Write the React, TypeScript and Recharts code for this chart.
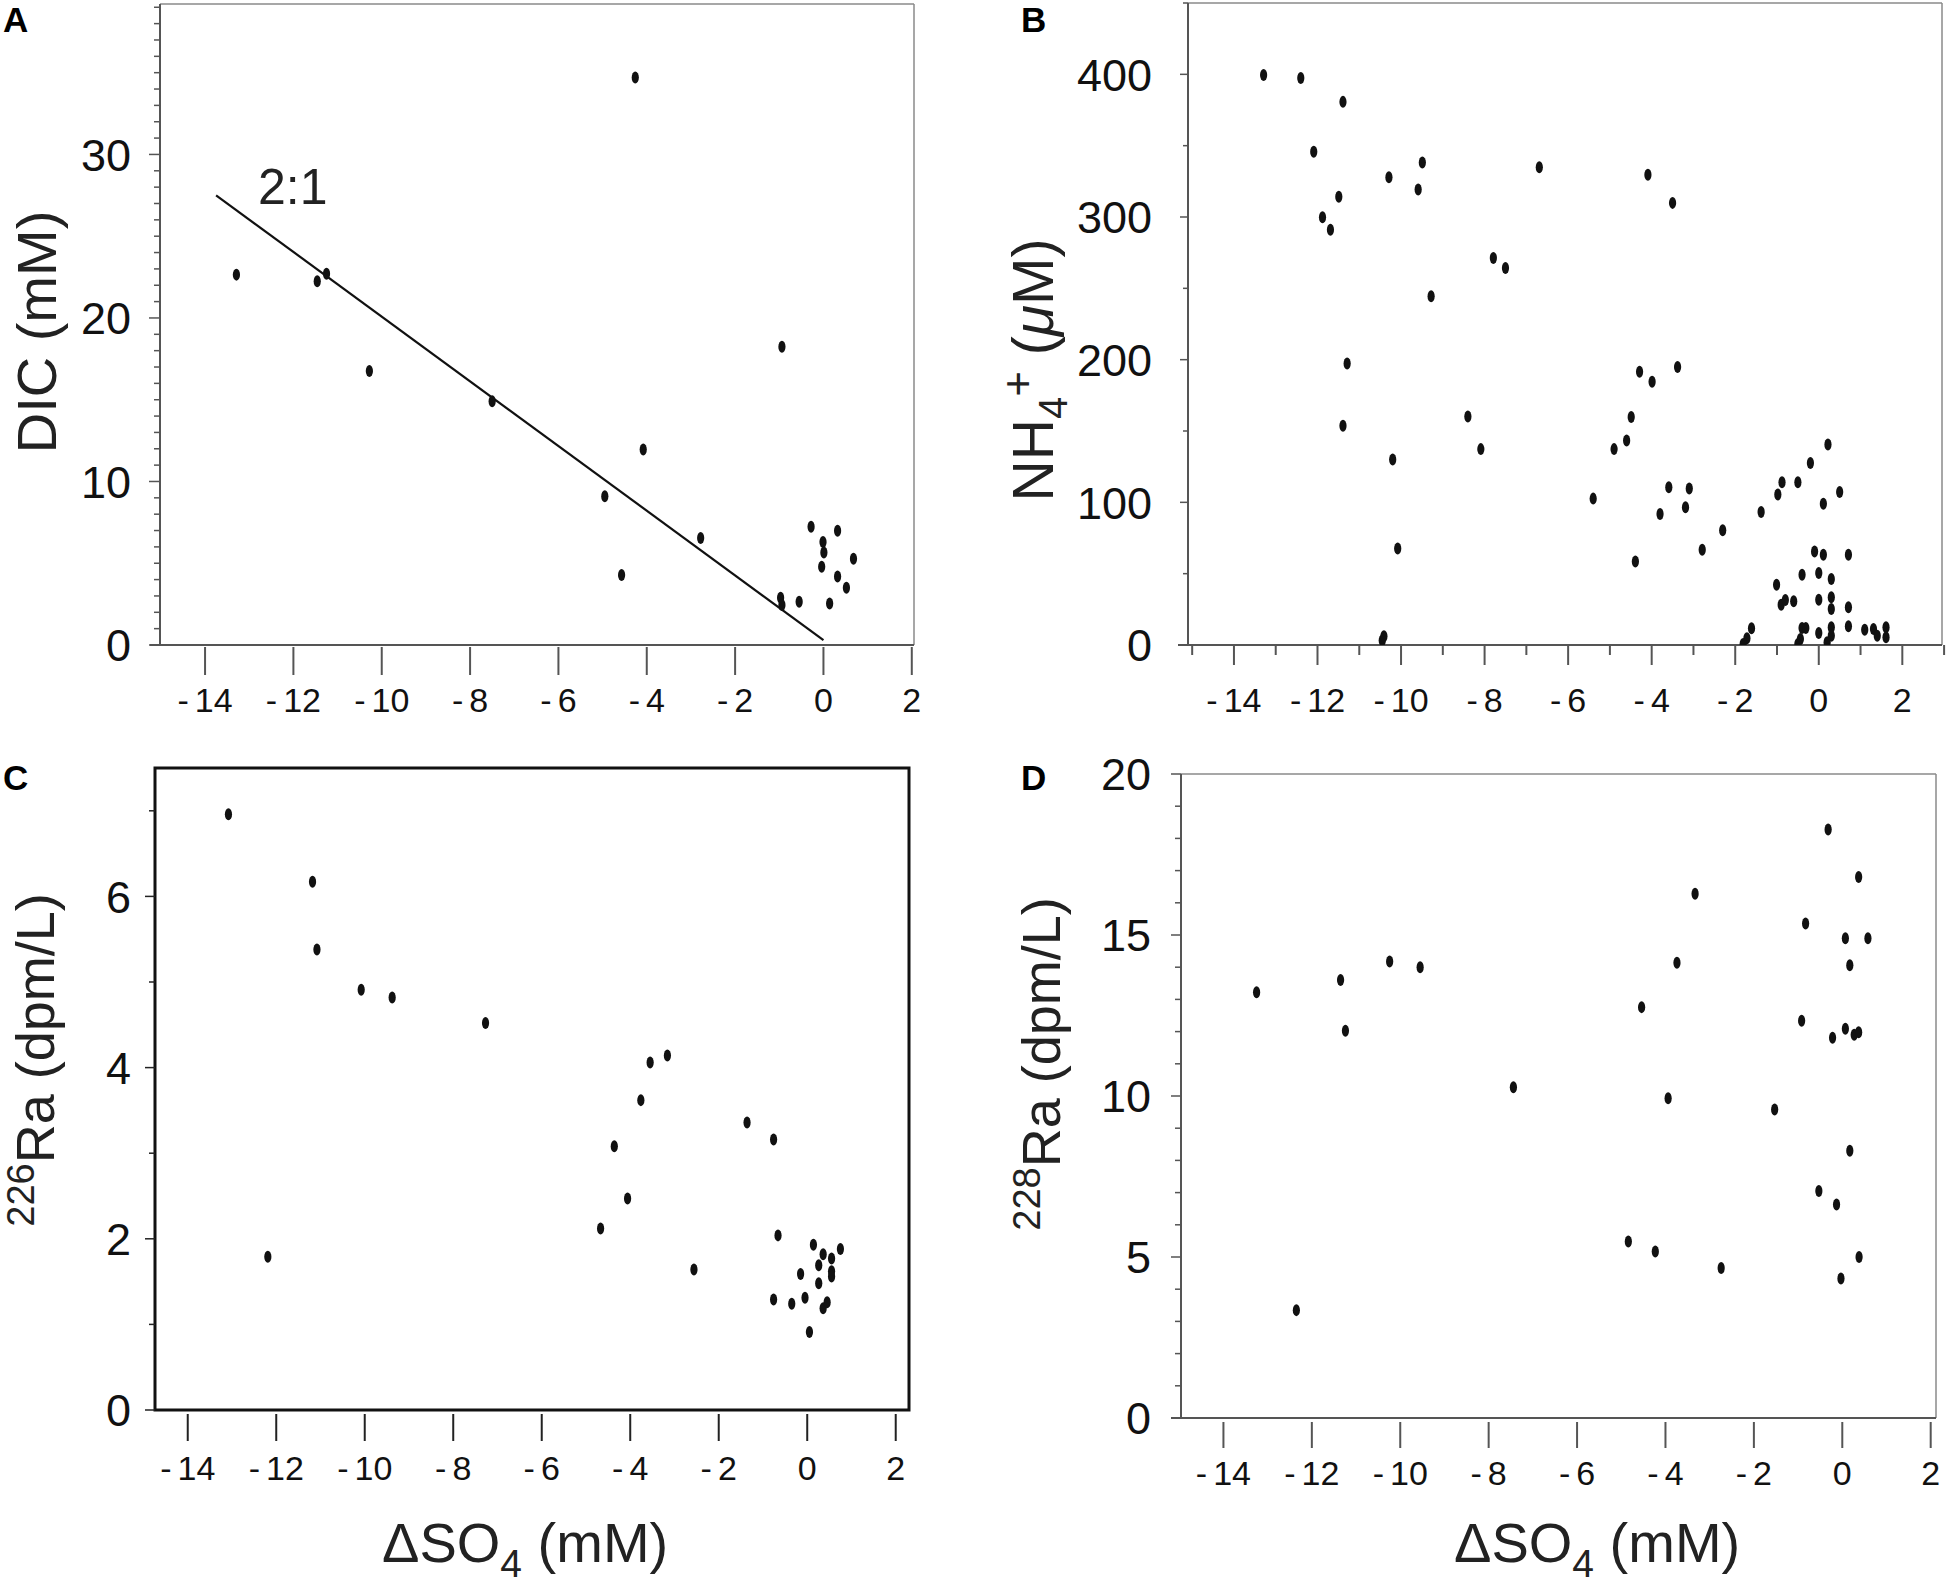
import React from "react";
import { Label, ReferenceArea, ReferenceLine, Scatter, ScatterChart, XAxis, YAxis } from "recharts";

const FONT = "'Liberation Sans', Arial, Helvetica, sans-serif";

// panel A: DIC vs dSO4
const aX = [-13.29, -11.46, -11.25, -10.28, -7.5, -4.26, -4.95, -4.57, -4.08, -2.78, -0.94, -0.97, -0.94, -0.55, -0.28, -0.01, 0.01, -0.04, 0.32, 0.32, 0.14, 0.52, 0.68];
const aY = [22.65, 22.25, 22.7, 16.75, 14.9, 34.7, 9.1, 4.28, 11.95, 6.55, 18.24, 2.89, 2.45, 2.64, 7.23, 6.3, 5.65, 4.78, 6.98, 4.19, 2.54, 3.5, 5.27];
const fitX = [-13.75, 0];
const fitY = [27.5, 0.3];

// panel B: NH4+ vs dSO4
const bX = [
  -13.29, -12.4, -11.39, -12.09, -11.49, -11.88, -11.69, -11.29, -11.39, -10.29, -10.2, -10.08, -10.45, -10.41,
  -9.49, -9.59, -9.28, -8.4, -8.09, -7.79, -7.5, -6.69, -5.4, -4.9, -4.6, -4.49, -4.29, -4.39, -4.09, -3.99,
  -3.8, -3.59, -3.5, -3.38, -3.19, -3.1, -2.79, -2.3, -1.38, -0.98, -0.88, -0.5, -0.2, 0.11, 0.22, 0.5,
  -0.1, 0.11, 0.71, -0.4, 0, 0.3, -1.01, -0.9, -0.8, -0.6, 0, 0.3, 0.3, 0.71, -1.61, -1.72, -1.81, -0.4,
  -0.31, -0.44, -0.5, 0, 0.3, 0.3, 0.2, 0.71, 1.1, 1.31, 1.4, 1.61, 1.61,
];
const bY = [
  399.6, 397.5, 380.7, 345.7, 314.2, 299.9, 291, 197.3, 153.7, 327.8, 130.1, 67.6, 3.2, 6.1,
  338.2, 319.2, 244.5, 160.1, 137.3, 271.3, 264.2, 334.9, 102.6, 137.3, 143.3, 159.8, 191.6, 58.6, 329.6, 184.5,
  91.9, 110.5, 309.9, 194.8, 96.5, 109.7, 66.8, 80.4, 93.3, 105.5, 114, 114, 127.6, 99, 140.5, 107.2,
  65.6, 63.3, 63.3, 49.3, 50.5, 46.2, 42.3, 28.2, 31.5, 30.6, 31.7, 33.4, 25.2, 26.4, 11.7, 4.7, 0.7, 11.9,
  11.9, 4.2, 0.7, 8.4, 12.4, 6.5, 1.9, 13.1, 10.7, 11.2, 6.5, 12.4, 5.4,
];

// panel C: 226Ra vs dSO4
const cX = [-13.08, -11.18, -11.08, -12.19, -10.08, -9.38, -7.27, -4.67, -4.36, -4.06, -3.76, -3.55, -3.16, -2.56, -1.36, -0.76, -0.66, -0.76, -0.35, -0.15, -0.05, 0.05, 0.14, 0.26, 0.26, 0.36, 0.36, 0.45, 0.55, 0.55, 0.55, 0.75];
const cY = [6.96, 6.17, 5.38, 1.79, 4.91, 4.82, 4.52, 2.12, 3.08, 2.47, 3.62, 4.06, 4.14, 1.64, 3.36, 3.16, 2.04, 1.29, 1.24, 1.59, 1.31, 0.91, 1.93, 1.69, 1.48, 1.82, 1.19, 1.26, 1.77, 1.62, 1.56, 1.88];

// panel D: 228Ra vs dSO4
const dX = [-13.25, -12.35, -11.35, -11.24, -10.24, -9.55, -7.44, -4.84, -4.54, -4.23, -3.94, -3.74, -3.33, -2.74, -1.53, -0.92, -0.83, -0.53, -0.32, -0.22, -0.13, -0.03, 0.07, 0.07, 0.17, 0.17, 0.27, 0.37, 0.37, 0.38, 0.58];
const dY = [13.22, 3.35, 13.6, 12.03, 14.18, 14.0, 10.27, 5.48, 12.76, 5.17, 9.93, 14.14, 16.28, 4.66, 9.58, 12.34, 15.36, 7.05, 18.28, 11.81, 6.63, 4.33, 14.9, 12.09, 8.3, 14.06, 11.9, 11.98, 16.8, 5.0, 14.9];

// tick labels
const xLabelsEven = [-14, -12, -10, -8, -6, -4, -2, 0, 2];
const xTicksB = Array.from({ length: 19 }, (_, i) => i - 15);
const aYLabels = [0, 10, 20, 30];
const aYTicks = Array.from({ length: 40 }, (_, i) => i);
const bYLabels = [0, 100, 200, 300, 400];
const bYTicks = [0, 50, 100, 150, 200, 250, 300, 350, 400, 450];
const cYLabels = [0, 2, 4, 6];
const cYTicks = [0, 1, 2, 3, 4, 5, 6, 7];
const dYLabels = [0, 5, 10, 15, 20];
const dYTicks = Array.from({ length: 21 }, (_, i) => i);

const pts = (xs: number[], ys: number[]) => xs.map((x, i) => ({ x, y: ys[i] }));

function Dot(props: any) {
  const { cx, cy } = props;
  if (cx == null || cy == null) return null;
  return <ellipse cx={cx} cy={cy} rx={3.6} ry={6} fill="#111" />;
}

type YT = { majors: number[]; major: number; minor: number; gap: number; size: number; color: string };
type XT = { majors: number[]; major: number; minor: number; off: number; base: number; size: number; color: string };

function yTick(c: YT) {
  return (p: any) => {
    const v = p.payload.value;
    const isMajor = c.majors.includes(v);
    const len = isMajor ? c.major : c.minor;
    return (
      <g>
        <line x1={p.x} x2={p.x - len} y1={p.y} y2={p.y} stroke={c.color} strokeWidth={1.5} />
        {isMajor && (
          <text x={p.x - len - c.gap} y={p.y} dy="0.36em" textAnchor="end" fontSize={c.size} fill="#111" fontFamily={FONT}>
            {v}
          </text>
        )}
      </g>
    );
  };
}

function xTick(c: XT) {
  return (p: any) => {
    const v = p.payload.value;
    const isMajor = c.majors.includes(v);
    const len = isMajor ? c.major : c.minor;
    return (
      <g>
        <line x1={p.x} x2={p.x} y1={p.y + c.off} y2={p.y + c.off + len} stroke={c.color} strokeWidth={2} />
        {isMajor && (
          <text x={p.x} y={p.y + c.base} textAnchor="middle" fontSize={c.size} fill="#111" fontFamily={FONT}>
            {v < 0 ? (
              <>
                <tspan>-</tspan>
                <tspan dx={6}>{Math.abs(v)}</tspan>
              </>
            ) : (
              v
            )}
          </text>
        )}
      </g>
    );
  };
}

type PanelProps = {
  left: number;
  top: number;
  width: number;
  height: number;
  margin: { top: number; right: number; left: number; bottom: number };
  yWidth: number;
  xHeight: number;
  xDomain: [number, number];
  yDomain: [number, number];
  xTicks: number[];
  yTicks: number[];
  xt: XT;
  yt: YT;
  data: { x: number; y: number }[];
  box?: boolean;
  axisColor: string;
  frameColor: string;
  xDecor: React.ReactNode;
  yDecor: React.ReactNode;
  children?: React.ReactNode;
};

function Panel(p: PanelProps) {
  return (
    <div style={{ position: "absolute", left: p.left, top: p.top }}>
      <ScatterChart width={p.width} height={p.height} margin={p.margin}>
        <XAxis
          type="number"
          dataKey="x"
          domain={p.xDomain}
          allowDataOverflow
          ticks={p.xTicks}
          interval={0}
          tickSize={0}
          tickMargin={0}
          tickLine={false}
          height={p.xHeight}
          axisLine={p.box ? false : { stroke: p.axisColor, strokeWidth: 2 }}
          tick={xTick(p.xt)}
        >
          <Label content={() => <g>{p.xDecor}</g>} />
        </XAxis>
        <YAxis
          type="number"
          dataKey="y"
          domain={p.yDomain}
          allowDataOverflow
          ticks={p.yTicks}
          interval={0}
          tickSize={0}
          tickMargin={0}
          tickLine={false}
          width={p.yWidth}
          axisLine={p.box ? false : { stroke: p.axisColor, strokeWidth: 2 }}
          tick={yTick(p.yt)}
        >
          <Label content={() => <g>{p.yDecor}</g>} />
        </YAxis>
        {p.box ? (
          <ReferenceArea
            x1={p.xDomain[0]}
            x2={p.xDomain[1]}
            y1={p.yDomain[0]}
            y2={p.yDomain[1]}
            fill="none"
            fillOpacity={0}
            stroke={p.frameColor}
            strokeWidth={3}
            ifOverflow="visible"
          />
        ) : (
          <>
            <ReferenceLine y={p.yDomain[1]} stroke={p.frameColor} strokeWidth={1.5} ifOverflow="visible" />
            <ReferenceLine x={p.xDomain[1]} stroke={p.frameColor} strokeWidth={1.5} ifOverflow="visible" />
          </>
        )}
        {p.children}
        <Scatter data={p.data} shape={Dot} isAnimationActive={false} />
      </ScatterChart>
    </div>
  );
}

const letter = (x: number, y: number, t: string) => (
  <text x={x} y={y} fontSize={35} fontWeight="bold" fill="#000" fontFamily={FONT}>
    {t}
  </text>
);

const xTitle = (x: number, y: number) => (
  <text x={x} y={y} fontSize={56} fill="#222" fontFamily={FONT}>
    ΔSO
    <tspan fontSize={39} dy={15}>4</tspan>
    <tspan dy={-15}> (mM)</tspan>
  </text>
);

const raTitle = (x: number, y: number, iso: string) => (
  <text x={x} y={y} fontSize={54} fill="#222" fontFamily={FONT} textAnchor="middle" transform={`rotate(-90 ${x} ${y})`}>
    <tspan fontSize={38} dy={-20}>{iso}</tspan>
    <tspan dy={20}>Ra (dpm/L)</tspan>
  </text>
);

// stub of the x axis that runs a little past the y axis
const stub = (x: number, y: number, color: string) => <line x1={x - 10} x2={x} y1={y} y2={y} stroke={color} strokeWidth={2} />;

export default function App() {
  const gray = "#555";
  const frame = "#8a8a8a";
  return (
    <div style={{ position: "relative", width: 1950, height: 1587, background: "#fff", overflow: "hidden" }}>
      <style>{"body{margin:0}"}</style>

      <Panel
        left={0}
        top={0}
        width={975}
        height={735}
        margin={{ top: 4, right: 61, left: 0, bottom: 0 }}
        yWidth={160}
        xHeight={90}
        xDomain={[-15.02, 2.05]}
        yDomain={[0, 39.2]}
        xTicks={xLabelsEven}
        yTicks={aYTicks}
        xt={{ majors: xLabelsEven, major: 28, minor: 0, off: 2, base: 67, size: 34, color: gray }}
        yt={{ majors: aYLabels, major: 11, minor: 6, gap: 18, size: 45, color: gray }}
        data={pts(aX, aY)}
        axisColor={gray}
        frameColor={frame}
        xDecor={
          <>
            {letter(3, 32, "A")}
            {stub(160, 645, gray)}
            <text x={258} y={204} fontSize={50} fill="#222" fontFamily={FONT}>
              2:1
            </text>
          </>
        }
        yDecor={
          <text x={56} y={332} fontSize={56} fill="#222" fontFamily={FONT} textAnchor="middle" transform="rotate(-90 56 332)">
            DIC (mM)
          </text>
        }
      >
        <ReferenceLine
          segment={[
            { x: fitX[0], y: fitY[0] },
            { x: fitX[1], y: fitY[1] },
          ]}
          stroke="#111"
          strokeWidth={2.2}
          ifOverflow="visible"
        />
      </Panel>

      <Panel
        left={975}
        top={0}
        width={975}
        height={735}
        margin={{ top: 3, right: 8, left: 0, bottom: 0 }}
        yWidth={213}
        xHeight={90}
        xDomain={[-15.1, 2.95]}
        yDomain={[0, 450]}
        xTicks={xTicksB}
        yTicks={bYTicks}
        xt={{ majors: xLabelsEven, major: 20, minor: 10, off: 0, base: 67, size: 34, color: gray }}
        yt={{ majors: bYLabels, major: 8, minor: 5, gap: 28, size: 45, color: gray }}
        data={pts(bX, bY)}
        axisColor={gray}
        frameColor={frame}
        xDecor={
          <>
            {letter(46, 32, "B")}
            {stub(213, 645, gray)}
          </>
        }
        yDecor={
          <text x={78} y={370} fontSize={57} fill="#222" fontFamily={FONT} textAnchor="middle" transform="rotate(-90 78 370)">
            NH
            <tspan fontSize={40} dy={14}>4</tspan>
            <tspan fontSize={44} dy={-34}>+</tspan>
            <tspan dy={20}> (</tspan>
            <tspan fontStyle="italic">μ</tspan>
            <tspan>M)</tspan>
          </text>
        }
      />

      <Panel
        left={0}
        top={740}
        width={975}
        height={847}
        margin={{ top: 28, right: 66, left: 0, bottom: 0 }}
        yWidth={155}
        xHeight={177}
        xDomain={[-14.74, 2.3]}
        yDomain={[0, 7.5]}
        xTicks={xLabelsEven}
        yTicks={cYTicks}
        xt={{ majors: xLabelsEven, major: 27, minor: 0, off: 4, base: 70, size: 34, color: "#222" }}
        yt={{ majors: cYLabels, major: 10, minor: 6, gap: 14, size: 45, color: "#222" }}
        data={pts(cX, cY)}
        box
        axisColor="#000"
        frameColor="#111"
        xDecor={
          <>
            {letter(3, 50, "C")}
            {xTitle(382, 822)}
          </>
        }
        yDecor={raTitle(54, 320, "226")}
      />

      <Panel
        left={975}
        top={740}
        width={975}
        height={847}
        margin={{ top: 34, right: 14, left: 0, bottom: 0 }}
        yWidth={206}
        xHeight={169}
        xDomain={[-14.96, 2.12]}
        yDomain={[0, 20]}
        xTicks={xLabelsEven}
        yTicks={dYTicks}
        xt={{ majors: xLabelsEven, major: 26, minor: 0, off: 4, base: 67, size: 34, color: gray }}
        yt={{ majors: dYLabels, major: 10, minor: 6, gap: 20, size: 45, color: gray }}
        data={pts(dX, dY)}
        axisColor={gray}
        frameColor={frame}
        xDecor={
          <>
            {letter(46, 50, "D")}
            {stub(206, 678, gray)}
            {xTitle(479, 822)}
          </>
        }
        yDecor={raTitle(85, 324, "228")}
      />
    </div>
  );
}
